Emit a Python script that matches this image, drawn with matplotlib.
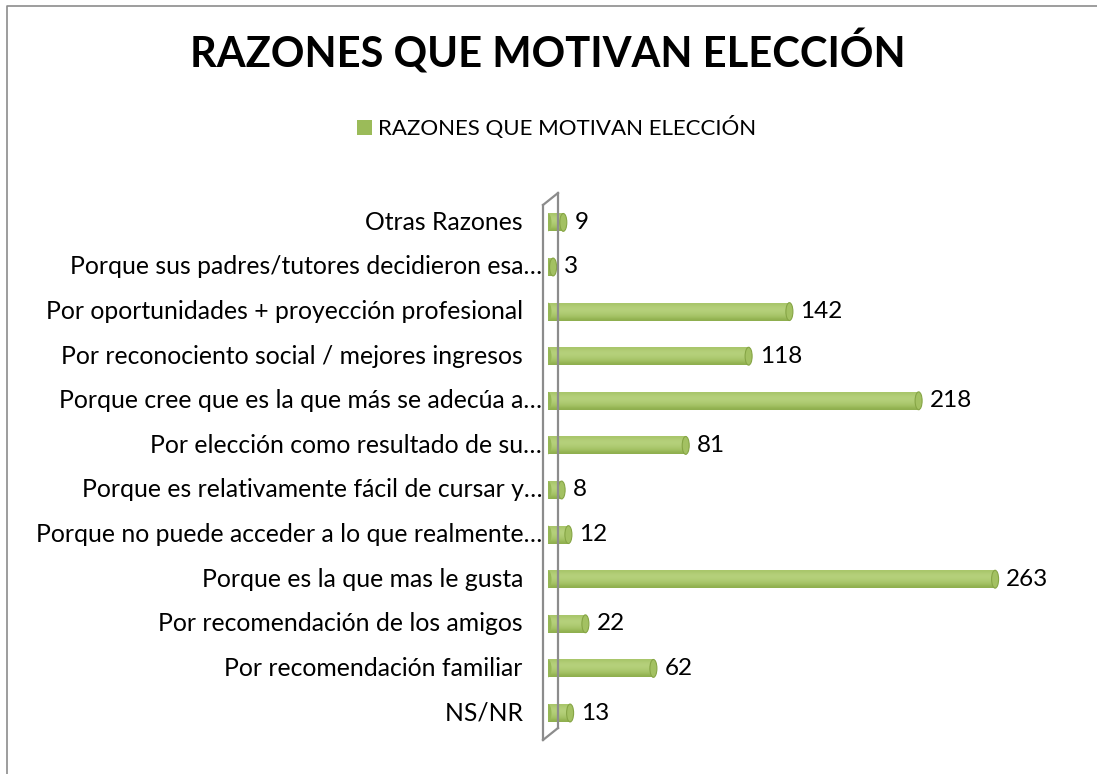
import numpy as np
import matplotlib
matplotlib.use("Agg")
import matplotlib.pyplot as plt
from matplotlib.patches import Ellipse
from matplotlib.lines import Line2D

plt.rcParams['font.family'] = ['Lato', 'DejaVu Sans']

# data, bottom to top
categories = [
    "NS/NR",
    "Por recomendación familiar",
    "Por recomendación de los amigos",
    "Porque es la que mas le gusta",
    "Porque no puede acceder a lo que realmente…",
    "Porque es relativamente fácil de cursar y…",
    "Por elección como resultado de su…",
    "Porque cree que es la que más se adecúa a…",
    "Por reconociento social / mejores ingresos",
    "Por oportunidades + proyección profesional",
    "Porque sus padres/tutores decidieron esa…",
    "Otras Razones",
]
values = [13, 62, 22, 263, 12, 8, 81, 218, 118, 142, 3, 9]
title = "RAZONES QUE MOTIVAN ELECCIÓN"

W, H = 1097, 774
fig = plt.figure(figsize=(W / 100, H / 100), dpi=100)

# axes placement in pixels
x0, x1 = 548, 1097
ytop, ybot = 190, 745
ax = fig.add_axes([x0 / W, 1 - ybot / H, (x1 - x0) / W, (ybot - ytop) / H])
pxu = 1.70  # pixels per unit
row = 44.6
ax.set_ylim(-(ybot - 713) / row, (713 - ytop) / row)
ax.axis('off')

green = '#9bbb59'
bh = 0.40
ypos = np.arange(len(values))
bars = ax.barh(ypos, values, height=bh, color=green, edgecolor='none', zorder=2)

# cylinder shading (first row = bottom of bar)
grad = np.array([0.72, 0.84, 0.92, 0.97, 1.0, 0.98, 0.9]).reshape(-1, 1)
cmap = matplotlib.colors.LinearSegmentedColormap.from_list(
    'cyl', ['#7d9c3e', '#9bbb59', '#b6d17c'])
cap_w = 7 / pxu
for b, v, y in zip(bars, values, ypos):
    im = ax.imshow(grad, cmap=cmap, vmin=0.6, vmax=1.0, aspect='auto',
                   extent=(0, v, y - bh / 2, y + bh / 2), zorder=3,
                   interpolation='bicubic', origin='lower')
    im.set_clip_path(b)
    ax.add_patch(Ellipse((0, y), cap_w, bh, facecolor='#96b756',
                         edgecolor='none', zorder=3.5))
    ax.add_patch(Ellipse((v, y), cap_w, bh, facecolor='#a3c162',
                         edgecolor='#86a545', lw=0.8, zorder=4))
    ax.text(v + 11 / pxu, y, str(v), ha='left', va='center',
            fontsize=17.5, color='black')
ax.set_xlim(0, (x1 - x0) / pxu)

# category labels
for c, y in zip(categories, ypos):
    lab = c if c.endswith("…") else c + "   "
    ax.text(-6 / pxu, y, lab, ha='right', va='center', fontsize=17.8,
            color='black', clip_on=False)

# 3d wall outline
def px(x, y):
    return x / W, 1 - y / H

wall = [((543, 205), (543, 740)), ((558, 193), (558, 728)),
        ((543, 205), (558, 193)), ((543, 740), (558, 728))]
for (a, b) in wall:
    p, q = px(*a), px(*b)
    fig.add_artist(Line2D([p[0], q[0]], [p[1], q[1]], color='#8c8c8c',
                          lw=1.6, zorder=1))

# chart border (left and top)
fig.add_artist(Line2D([7 / W, 7 / W, 1], [0, 1 - 6 / H, 1 - 6 / H],
                      color='#8c8c8c', lw=1.2))

fig.text(548 / W, 1 - 52 / H, title, ha='center', va='center',
         fontsize=30, fontweight='bold')
# legend
fig.patches.append(matplotlib.patches.Rectangle(
    (357 / W, 1 - 135 / H), 15 / W, 15 / H, facecolor=green,
    transform=fig.transFigure, figure=fig))
fig.text(378 / W, 1 - 128 / H, title, ha='left', va='center', fontsize=16)

fig.savefig("out.png", dpi=100)
